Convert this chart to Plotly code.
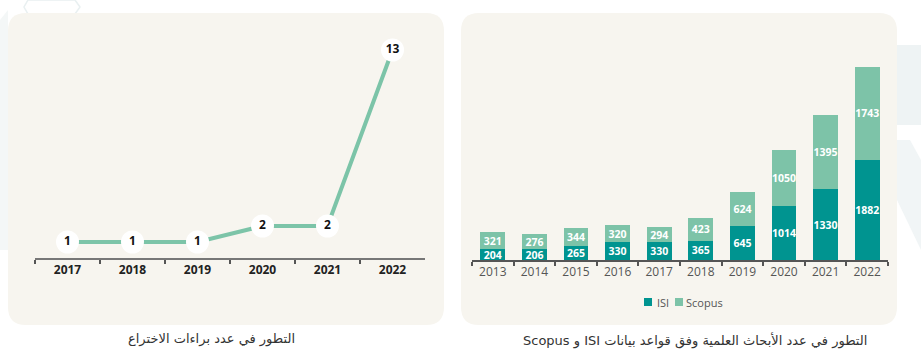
import plotly.graph_objects as go

W, H = 921, 361

# Left chart data (patents)
patent_years = ["2017", "2018", "2019", "2020", "2021", "2022"]
patent_counts = [1, 1, 1, 2, 2, 13]

# Right chart data (publications)
pub_years = ["2013", "2014", "2015", "2016", "2017", "2018", "2019", "2020", "2021", "2022"]
isi_values = [204, 206, 265, 330, 330, 365, 645, 1014, 1330, 1882]
scopus_values = [321, 276, 344, 320, 294, 423, 624, 1050, 1395, 1743]
series_names = ["ISI", "Scopus"]

left_title = "التطور في عدد براءات الاختراع"
right_title = "التطور في عدد الأبحاث العلمية وفق قواعد بيانات ISI و Scopus"

PANEL = "#f7f5ef"
LINE = "#7cc4a8"
ISI_C = "#009490"
SCO_C = "#7dc3a8"
FONT = "Open Sans, DejaVu Sans, sans-serif"


def fx(px):
    return px / W


def fy(py):
    return 1 - py / H


def rounded_rect(x0, y0, x1, y1, r):
    rx, ry = r / W, r / H
    X0, X1 = fx(x0), fx(x1)
    Y0, Y1 = fy(y1), fy(y0)
    return (f"M {X0+rx},{Y0} L {X1-rx},{Y0} Q {X1},{Y0} {X1},{Y0+ry} "
            f"L {X1},{Y1-ry} Q {X1},{Y1} {X1-rx},{Y1} L {X0+rx},{Y1} "
            f"Q {X0},{Y1} {X0},{Y1-ry} L {X0},{Y0+ry} Q {X0},{Y0} {X0+rx},{Y0} Z")


def poly(points):
    return "M " + " L ".join(f"{fx(x)},{fy(y)}" for x, y in points) + " Z"


def rtl(s):
    return "\u202b" + s + "\u202c"


fig = go.Figure()

fig.add_trace(go.Scatter(
    x=patent_years, y=patent_counts, mode="lines+markers+text",
    line=dict(color=LINE, width=4),
    marker=dict(size=23, color="white", line=dict(width=0)),
    text=[str(v) for v in patent_counts], textposition="middle center",
    textfont=dict(family=FONT, size=12, color="#111", weight="bold"),
    xaxis="x", yaxis="y", showlegend=False, cliponaxis=False, hoverinfo="skip",
))

for name, vals, col in [(series_names[0], isi_values, ISI_C), (series_names[1], scopus_values, SCO_C)]:
    fig.add_trace(go.Bar(
        x=pub_years, y=vals, name=name, marker=dict(color=col, line=dict(width=0)),
        text=[str(v) for v in vals], textposition="inside", insidetextanchor="middle",
        constraintext="none", textangle=0,
        textfont=dict(family=FONT, size=10.5, color="white", weight="bold"),
        xaxis="x2", yaxis="y2", width=0.6, hoverinfo="skip", showlegend=False,
    ))

left_y_top = (258 - 30) / 16.0
right_px_per_unit = (260 - 66.7) / (1882 + 1743)
right_y_top = (260 - 30) / right_px_per_unit

# background decoration (faint hex pattern) + panels
shapes = [
    dict(type="path", xref="paper", yref="paper",
         path=poly([(897, 45), (921, 45), (921, 125), (897, 125)]),
         fillcolor="#eef3f4", line=dict(width=0), layer="below"),
    dict(type="path", xref="paper", yref="paper",
         path=poly([(897, 140), (910, 140), (921, 160), (921, 250), (897, 200)]),
         fillcolor="#f1f5f6", line=dict(width=0), layer="below"),
    dict(type="path", xref="paper", yref="paper",
         path=poly([(0, 20), (8, 10), (8, 250), (0, 250)]),
         fillcolor="#f4f7f7", line=dict(width=0), layer="below"),
    dict(type="path", xref="paper", yref="paper",
         path=poly([(28, 0), (75, 0), (80, 7), (75, 14), (28, 14), (24, 7)]),
         fillcolor="rgba(0,0,0,0)", line=dict(width=1.5, color="#e9f0f1"), layer="below"),
    dict(type="path", xref="paper", yref="paper", path=rounded_rect(8, 13, 444, 325, 18),
         fillcolor=PANEL, line=dict(width=0), layer="below"),
    dict(type="path", xref="paper", yref="paper", path=rounded_rect(461, 13, 897, 325, 18),
         fillcolor=PANEL, line=dict(width=0), layer="below"),
]

# custom compact legend
legend_items = [(series_names[0], ISI_C, 648, 655), (series_names[1], SCO_C, 679, 684)]
annotations = []
for name, col, cx, tx in legend_items:
    shapes.append(dict(type="rect", xref="paper", yref="paper",
                       x0=fx(cx - 4), x1=fx(cx + 4), y0=fy(306), y1=fy(298),
                       fillcolor=col, line=dict(width=0)))
    annotations.append(dict(text=name, xref="paper", yref="paper", x=fx(tx), y=fy(302),
                            xanchor="left", yanchor="middle", showarrow=False,
                            font=dict(family=FONT, size=11, color="#555")))

annotations += [
    dict(text=rtl(left_title), xref="paper", yref="paper", x=fx(211), y=fy(339),
         xanchor="center", yanchor="middle", showarrow=False,
         font=dict(family="DejaVu Sans", size=13, color="#333")),
    dict(text=rtl(right_title), xref="paper", yref="paper", x=fx(695), y=fy(340),
         xanchor="center", yanchor="middle", showarrow=False,
         font=dict(family="DejaVu Sans", size=13, color="#333")),
]

fig.update_layout(
    width=W, height=H, margin=dict(l=0, r=0, t=0, b=0),
    paper_bgcolor="white", plot_bgcolor="rgba(0,0,0,0)",
    barmode="stack", font=dict(family=FONT), showlegend=False,
    xaxis=dict(domain=[fx(35), fx(425)], type="category", range=[-0.5, 5.5],
               showline=True, linecolor="#777", linewidth=2, ticks="outside",
               tickson="boundaries", ticklen=4, tickcolor="#555", tickwidth=1.5,
               showgrid=False, zeroline=False,
               tickfont=dict(family=FONT, size=12, color="#222", weight="bold"),
               anchor="y"),
    yaxis=dict(domain=[fy(258), fy(30)], range=[0, left_y_top], visible=False,
               showgrid=False, zeroline=False, anchor="x"),
    xaxis2=dict(domain=[fx(472), fx(888)], type="category", range=[-0.5, 9.5],
                showline=True, linecolor="#555", linewidth=1.5, ticks="outside",
                tickson="boundaries", ticklen=4, tickcolor="#555", tickwidth=1.5,
                showgrid=False, zeroline=False,
                tickfont=dict(family=FONT, size=12, color="#555"),
                anchor="y2"),
    yaxis2=dict(domain=[fy(260), fy(30)], range=[0, right_y_top], visible=False,
                showgrid=False, zeroline=False, anchor="x2"),
    shapes=shapes,
    annotations=annotations,
)

fig.write_html("out.html", config={"displayModeBar": False},
               post_script="document.body.style.margin='0';")
